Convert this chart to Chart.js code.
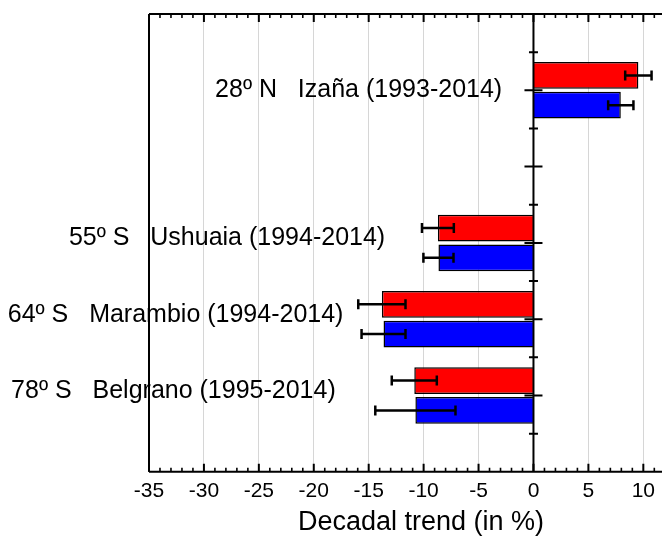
<!DOCTYPE html>
<html>
<head>
<meta charset="utf-8">
<script src="https://cdn.jsdelivr.net/npm/chart.js@4.4.1/dist/chart.umd.min.js"></script>
<style>
  html, body { margin: 0; padding: 0; background: #fff; overflow: hidden; }
  #wrap { width: 662px; height: 536px; }
</style>
</head>
<body>
<div id="wrap"><canvas id="trendChart" width="662" height="536"></canvas></div>
<script>
// stations, top to bottom (row 2 is left empty in the figure)
const stations = ['28º N   Izaña (1993-2014)', '55º S   Ushuaia (1994-2014)', '64º S   Marambio (1994-2014)', '78º S   Belgrano (1995-2014)'];
const rows = [1, 3, 4, 5];

// decadal trends (%) and their error bars
const redTrend = [9.55, -8.7, -13.8, -10.85];
const redError = [1.2, 1.45, 2.15, 2.05];
const blueTrend = [7.95, -8.65, -13.65, -10.75];
const blueError = [1.15, 1.37, 2.0, 3.65];

const xMin = -35;
const xMax = 11.7;
const xStep = 5;

// where each station name ends (in x units) and sits (in rows)
const labelEnd = [-2.85, -13.5, -17.3, -18.0];
const labelRow = [1, 2.94, 3.95, 4.94];

const FONT = '"Liberation Sans", Arial, sans-serif';

function points(values) {
    return values.map((v, i) => ({ x: v, y: rows[i] }));
}

const frame = {
    id: 'frame',
    afterDatasetsDraw(chart) {
        const { ctx, chartArea: a, scales: { x, y } } = chart;
        ctx.save();
        ctx.strokeStyle = '#000';
        ctx.lineCap = 'butt';

        // error bars
        [[redTrend, redError], [blueTrend, blueError]].forEach(([vals, errs], d) => {
            const meta = chart.getDatasetMeta(d);
            vals.forEach((v, i) => {
                const py = meta.data[i].y;
                const x1 = x.getPixelForValue(v - errs[i]);
                const x2 = x.getPixelForValue(v + errs[i]);
                ctx.lineWidth = 2.5;
                ctx.beginPath();
                ctx.moveTo(x1, py); ctx.lineTo(x2, py);
                ctx.moveTo(x1, py - 5); ctx.lineTo(x1, py + 5);
                ctx.moveTo(x2, py - 5); ctx.lineTo(x2, py + 5);
                ctx.stroke();
            });
        });

        // vertical axis through zero
        const x0 = x.getPixelForValue(0);
        ctx.lineWidth = 2;
        ctx.beginPath();
        ctx.moveTo(x0, a.top); ctx.lineTo(x0, a.bottom);
        for (let v = 0.5; v < 6; v += 0.5) {
            const py = y.getPixelForValue(v);
            const half = Number.isInteger(v) ? 9 : 4.5;
            ctx.moveTo(x0 - half, py); ctx.lineTo(x0 + half, py);
        }
        ctx.stroke();

        // frame: left, top, bottom
        ctx.beginPath();
        ctx.moveTo(a.left, a.top); ctx.lineTo(a.left, a.bottom);
        ctx.moveTo(a.left, a.top); ctx.lineTo(a.right, a.top);
        ctx.moveTo(a.left, a.bottom); ctx.lineTo(a.right, a.bottom);
        ctx.stroke();

        // inward ticks on top and bottom
        for (let v = xMin; v <= xMax; v += 1) {
            const px = x.getPixelForValue(v);
            const major = v % xStep === 0;
            const len = major ? 8 : 4;
            ctx.lineWidth = major ? 2 : 1.6;
            ctx.beginPath();
            ctx.moveTo(px, a.bottom); ctx.lineTo(px, a.bottom - len);
            ctx.moveTo(px, a.top); ctx.lineTo(px, a.top + len);
            ctx.stroke();
        }

        // station names
        ctx.fillStyle = '#000';
        ctx.font = '25px ' + FONT;
        ctx.textAlign = 'right';
        ctx.textBaseline = 'middle';
        stations.forEach((s, i) => {
            ctx.fillText(s, x.getPixelForValue(labelEnd[i]), y.getPixelForValue(labelRow[i]));
        });

        // axis title
        ctx.font = '27px ' + FONT;
        ctx.textAlign = 'center';
        ctx.fillText('Decadal trend (in %)', 421, 523);
        ctx.restore();
    }
};

const ctx = document.getElementById('trendChart').getContext('2d');
const chart = new Chart(ctx, {
    type: 'bar',
    data: {
        datasets: [{
            data: points(redTrend),
            backgroundColor: '#ff0000',
            borderColor: '#000',
            borderWidth: 1.5,
            categoryPercentage: 0.78,
            barPercentage: 0.9
        }, {
            data: points(blueTrend),
            backgroundColor: '#0000ff',
            borderColor: '#000',
            borderWidth: 1.5,
            categoryPercentage: 0.78,
            barPercentage: 0.9
        }]
    },
    options: {
        indexAxis: 'y',
        responsive: false,
        animation: false,
        layout: { padding: { left: 149, top: 14, right: 0, bottom: 25 } },
        plugins: { legend: { display: false }, tooltip: { enabled: false } },
        scales: {
            x: {
                type: 'linear',
                min: xMin,
                max: xMax,
                ticks: {
                    stepSize: xStep,
                    includeBounds: false,
                    padding: 7,
                    color: '#000',
                    font: { size: 21, family: FONT, lineHeight: 1.2 }
                },
                grid: {
                    drawTicks: false,
                    lineWidth: 1,
                    color: c => (c.tick && (c.tick.value === 0 || c.tick.value === xMin)) ? 'rgba(0,0,0,0)' : '#d6d6d6'
                },
                border: { display: false }
            },
            y: {
                type: 'linear',
                min: 0,
                max: 6,
                reverse: true,
                offset: false,
                display: false,
                ticks: { stepSize: 1 },
                grid: { offset: false }
            }
        }
    },
    plugins: [frame]
});
</script>
</body>
</html>
